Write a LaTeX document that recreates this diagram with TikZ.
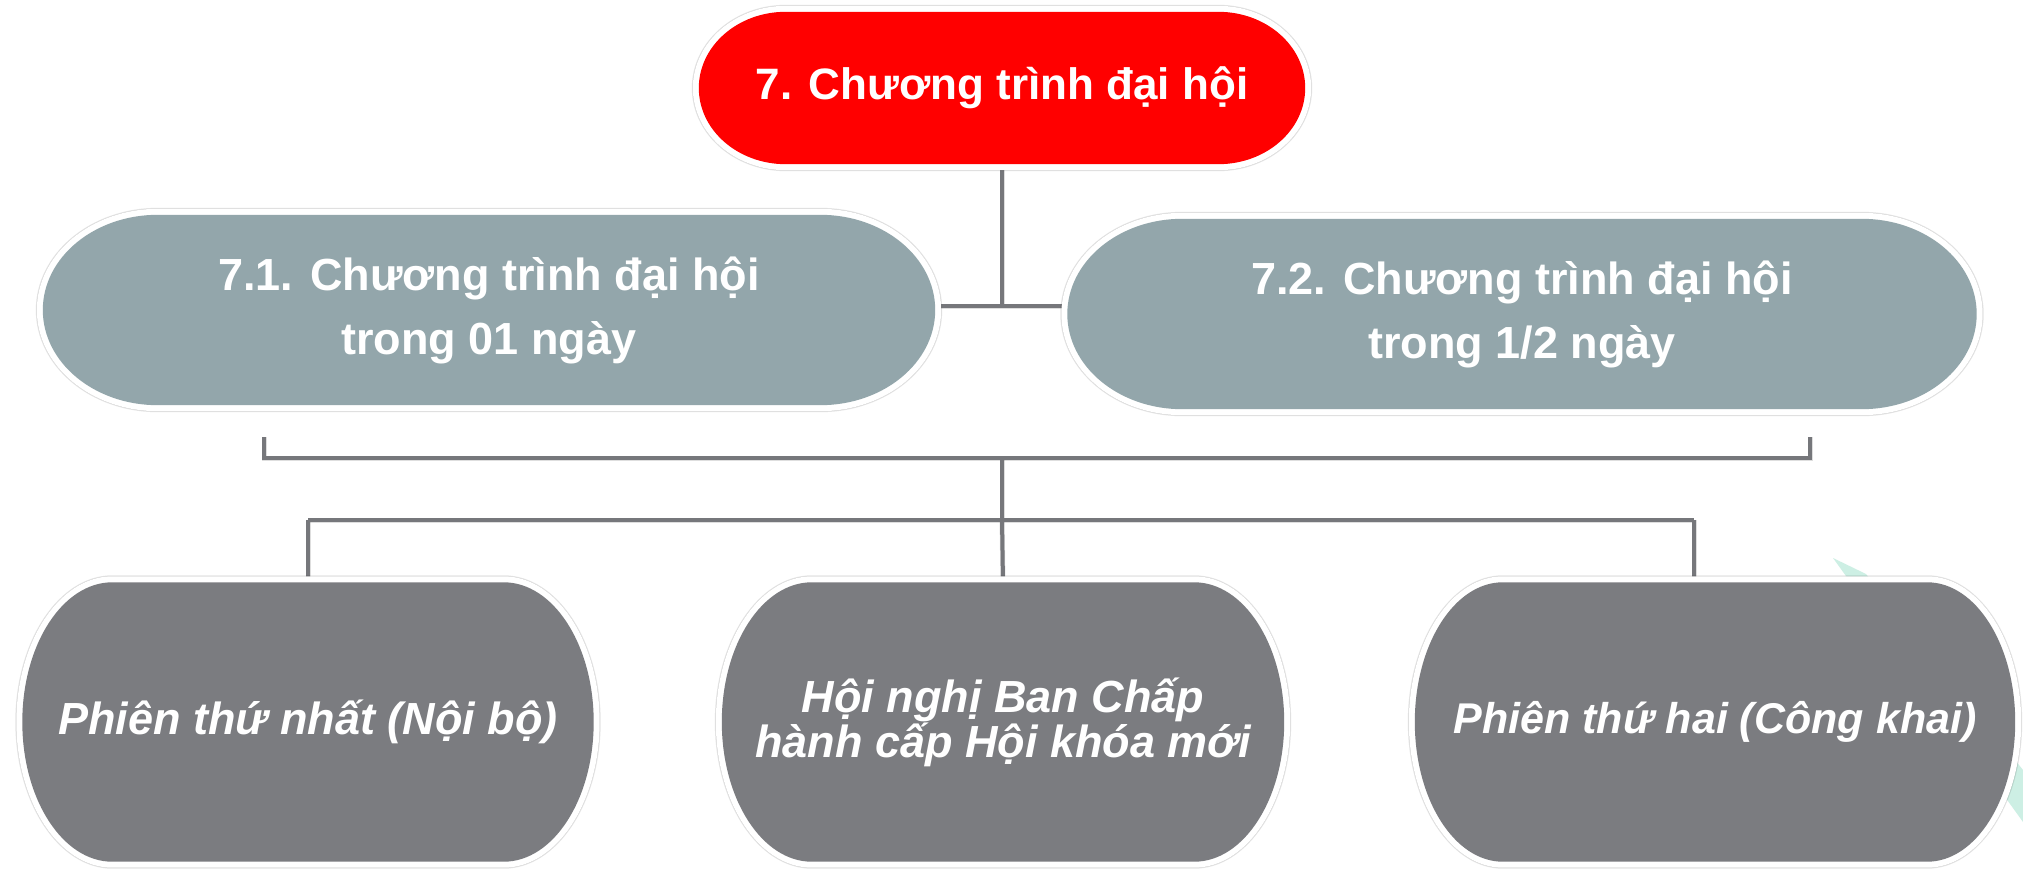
\documentclass[tikz,border=0pt]{standalone}
\usepackage{fontspec}
\setmainfont{Liberation Sans}
\usetikzlibrary{calc}
\pgfdeclarelayer{bg}
\pgfdeclarelayer{lines}
\pgfdeclarelayer{shapes}
\pgfsetlayers{bg,lines,shapes,main}
\definecolor{topred}{HTML}{FF0000}
\definecolor{midblue}{HTML}{93A6AB}
\definecolor{botgray}{HTML}{7B7C80}
\definecolor{linegray}{HTML}{76777B}
\definecolor{mint}{HTML}{CDEFE4}
\newcommand\blobpath[3]{%
 let \p1=(#1.north west), \p2=(#1.south east), \n1={(\y1-\y2)/2+#3}, \n2={#2+#3} in
 ({\x1-#3pt+\n2*1pt},{\y1+#3pt}) -- ({\x2+#3pt-\n2*1pt},{\y1+#3pt})
 arc[start angle=90,end angle=-90,x radius={\n2*1pt},y radius={\n1*1pt}]
 -- ({\x1-#3pt+\n2*1pt},{\y2-#3pt})
 arc[start angle=270,end angle=90,x radius={\n2*1pt},y radius={\n1*1pt}] -- cycle}
\newcommand\drawblob[3]{%
 \begin{pgfonlayer}{shapes}
  \fill[black,opacity=0.05,xshift=4pt,yshift=-9pt] \blobpath{#1}{#2}{7};
  \fill[black,opacity=0.08,xshift=3pt,yshift=-6pt] \blobpath{#1}{#2}{6};
  \fill[black,opacity=0.14,xshift=2pt,yshift=-3pt] \blobpath{#1}{#2}{6};
  \fill[black,opacity=0.06] \blobpath{#1}{#2}{7};
  \fill[white] \blobpath{#1}{#2}{6};
  \fill[#3] \blobpath{#1}{#2}{0};
 \end{pgfonlayer}}
\tikzset{
 box/.style={rectangle, inner sep=0pt, text=white, align=center},
 boldtxt/.style={font=\fontsize{45}{64}\selectfont\bfseries},
 toptxt/.style={font=\fontsize{44}{64}\selectfont\bfseries},
 italtxt/.style={font=\fontsize{45}{43}\selectfont\bfseries\itshape},
 italsmall/.style={font=\fontsize{43}{43}\selectfont\bfseries\itshape},
 conn/.style={draw=linegray, line width=4pt},
 connshadow/.style={draw=black, opacity=0.13, line width=5pt, yshift=-4pt, xshift=2pt}
}
\begin{document}
\begin{tikzpicture}[x=1pt,y=-1pt]
\useasboundingbox (0,0) rectangle (2023,872);
\begin{pgfonlayer}{bg}
\fill[white] (0,0) rectangle (2023,872);
\end{pgfonlayer}

% nodes
\node[box,toptxt,minimum width=606pt,minimum height=152pt] (top) at (1002,88) {7. Chương trình đại hội};
\node[box,boldtxt,minimum width=892pt,minimum height=190pt] (l2a) at (489,310) {7.1. Chương trình đại hội\\trong 01 ngày};
\node[box,boldtxt,minimum width=909pt,minimum height=190pt] (l2b) at (1522,314) {7.2. Chương trình đại hội\\trong 1/2 ngày};
\node[box,italtxt,minimum width=571pt,minimum height=279pt] (p1) at (308,722) {Phiên thứ nhất (Nội bộ)};
\node[box,italtxt,minimum width=562pt,minimum height=279pt] (p2) at (1003,722) {Hội nghị Ban Chấp\\hành cấp Hội khóa mới};
\node[box,italsmall,minimum width=600pt,minimum height=279pt] (p3) at (1715,722) {Phiên thứ hai (Công khai)};

\drawblob{top}{87}{topred}
\drawblob{l2a}{115}{midblue}
\drawblob{l2b}{115}{midblue}
\drawblob{p1}{90}{botgray}
\drawblob{p2}{90}{botgray}
\drawblob{p3}{88}{botgray}

% connector points
\coordinate (j1) at (1002,306);
\coordinate (bL) at (264,437);
\coordinate (bR) at (1810,437);
\coordinate (bM) at (1002,458);
\coordinate (j2) at (1002,520);
\coordinate (d1) at (308,520);
\coordinate (d3) at (1694,520);

\begin{pgfonlayer}{lines}
 \fill[mint] (1833,558) -- (1866,574) -- (2023,770) -- (2023,822) -- cycle;
 \foreach \st in {connshadow,conn}{
  \draw[\st] (top.south) -- (j1);
  \draw[\st] (l2a.east |- j1) -- (l2b.west |- j1);
  \draw[\st] (bL) -- (bL |- bM) -- (bR |- bM) -- (bR);
  \draw[\st] (bM) -- (j2);
  \draw[\st] (d1) -- (d3);
  \draw[\st] (d1) -- (p1.north);
  \draw[\st] (j2) -- (p2.north);
  \draw[\st] (d3) -- (d3 |- p3.north);
 }
\end{pgfonlayer}
\end{tikzpicture}
\end{document}
